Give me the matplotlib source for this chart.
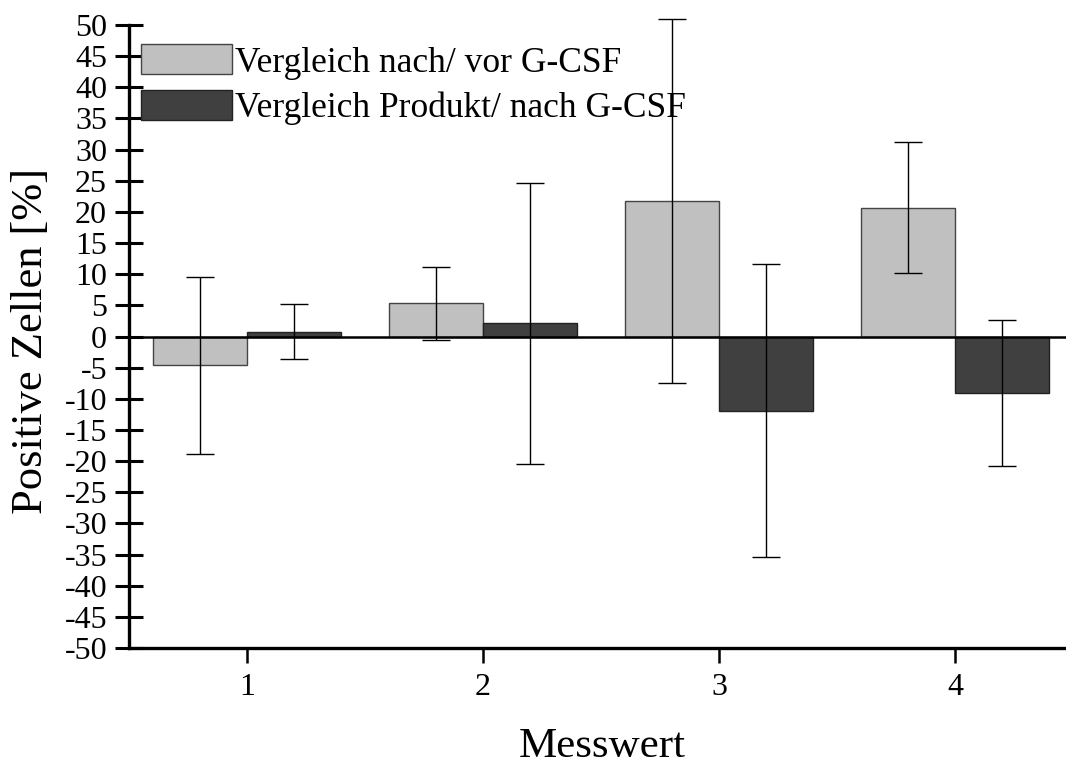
import numpy as np
import matplotlib
matplotlib.use("Agg")
import matplotlib.pyplot as plt

plt.rcParams["font.family"] = ["Liberation Serif", "DejaVu Serif"]
plt.rcParams["axes.unicode_minus"] = False

messwert = [1, 2, 3, 4]
nach_vor = [-4.6, 5.3, 21.8, 20.7]
nach_vor_err = [14.2, 5.8, 29.2, 10.5]
produkt_nach = [0.8, 2.1, -11.9, -9.1]
produkt_nach_err = [4.4, 22.5, 23.5, 11.7]

x = np.array(messwert)
w = 0.4

fig = plt.figure(figsize=(10.66, 7.67), dpi=100)
ax = fig.add_axes([129 / 1066, 1 - 648 / 767, (1073 - 129) / 1066, (648 - 25) / 767])

ax.bar(x - w / 2, nach_vor, w, color="#c0c0c0", edgecolor="#444444", linewidth=1,
       label="Vergleich nach/ vor G-CSF", zorder=2)
ax.bar(x + w / 2, produkt_nach, w, color="#404040", edgecolor="#222222", linewidth=1,
       label="Vergleich Produkt/ nach G-CSF", zorder=2)
eb1 = ax.errorbar(x - w / 2, nach_vor, yerr=nach_vor_err, fmt="none", ecolor="black",
                  elinewidth=1, capsize=10, capthick=1, zorder=3)
eb2 = ax.errorbar(x + w / 2, produkt_nach, yerr=produkt_nach_err, fmt="none", ecolor="black",
                  elinewidth=1, capsize=10, capthick=1, zorder=3)
for eb in (eb1, eb2):
    for art in eb.lines[1] + eb.lines[2]:
        art.set_clip_on(False)

ax.axhline(0, color="black", linewidth=1.8, zorder=4)

ax.set_xlim(0.5, 4.5)
ax.set_ylim(-50, 50)
ax.set_yticks(np.arange(-50, 51, 5))
ax.set_xticks(messwert)

for s in ("top", "right"):
    ax.spines[s].set_visible(False)
for s in ("left", "bottom"):
    ax.spines[s].set_linewidth(2.4)

ax.tick_params(axis="y", direction="inout", length=19.5, width=2.2, labelsize=23, pad=6)
ax.tick_params(axis="x", direction="out", length=11, width=1.8, labelsize=23, pad=7)

fig.text(602 / 1066, 1 - 757 / 767, "Messwert", fontsize=31, ha="center", va="baseline")
fig.text(11 / 1066, 1 - 341.5 / 767, "Positive Zellen [%]", fontsize=32, rotation=90,
         ha="left", va="center")

ax.legend(loc="upper left", bbox_to_anchor=(-0.006, 0.9975), frameon=False, fontsize=25.5,
          handlelength=2.57, handleheight=0.93, handletextpad=0.08, labelspacing=0.29,
          borderaxespad=0.3, borderpad=0.2)

fig.savefig("out.png", dpi=100)
